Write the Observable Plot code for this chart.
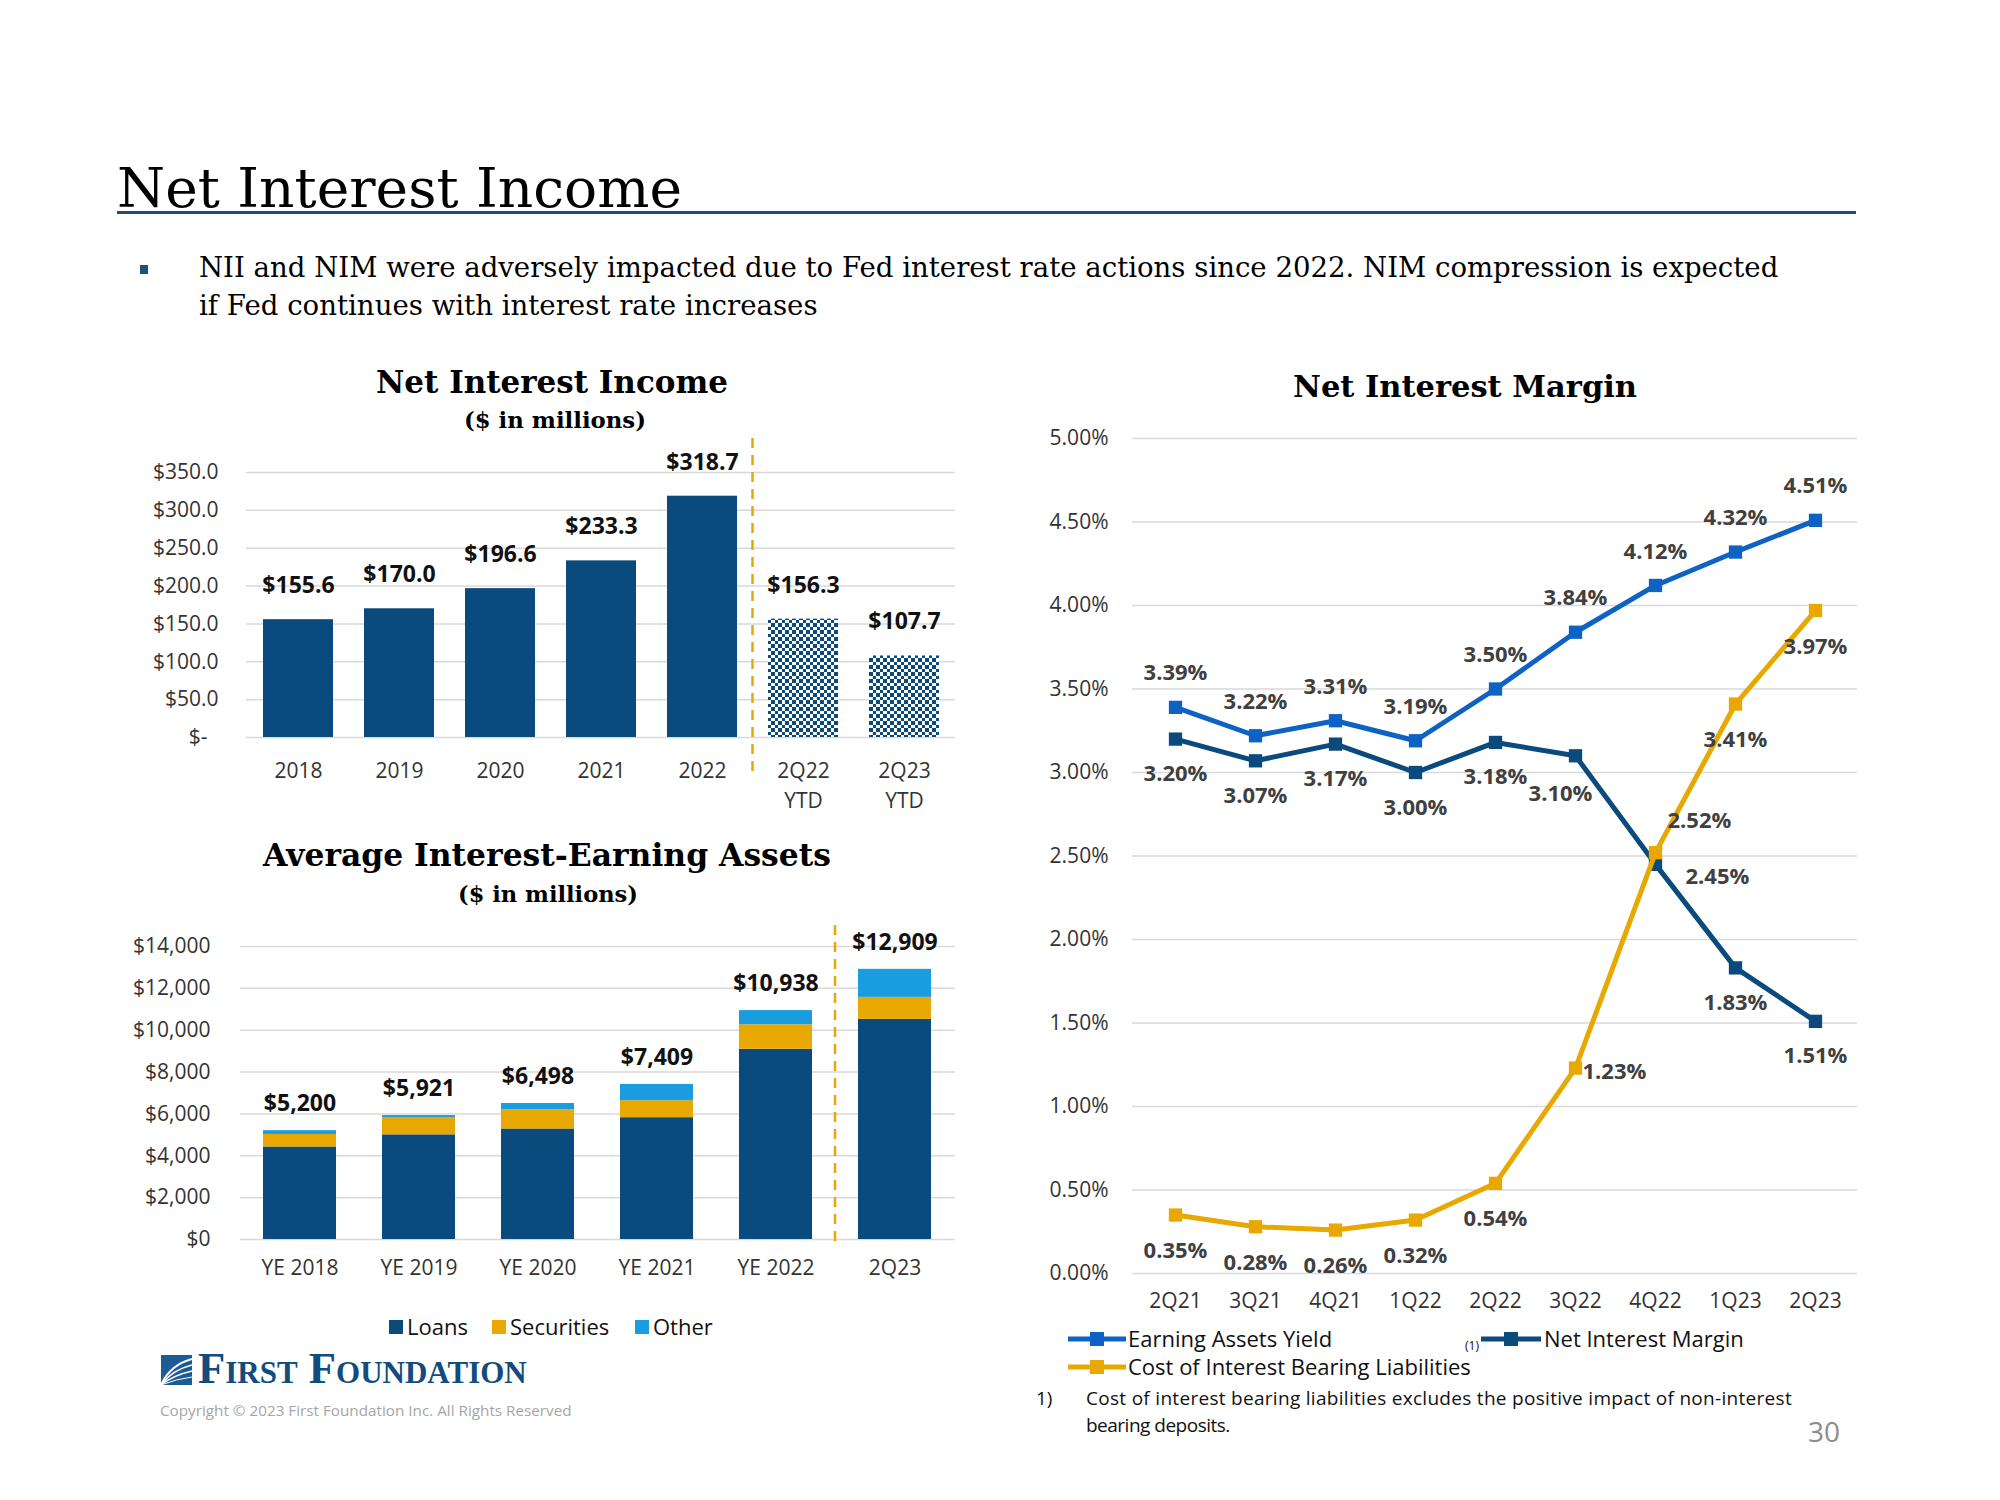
<!DOCTYPE html>
<html>
<head>
<meta charset="utf-8">
<script src="https://cdn.jsdelivr.net/npm/d3@7"></script>
<script src="https://cdn.jsdelivr.net/npm/@observablehq/plot@0.6"></script>
<style>
html, body { margin: 0; padding: 0; background: #fff; }
#page { position: relative; width: 2000px; height: 1500px; overflow: hidden; background: #fff; font-family: "Open Sans", sans-serif; }
.t { position: absolute; white-space: nowrap; line-height: 1; }
.chart { position: absolute; }
.box { position: absolute; }
</style>
</head>
<body>
<svg width="0" height="0" style="position:absolute">
  <defs>
    <pattern id="checker" patternUnits="userSpaceOnUse" width="7" height="7">
      <rect width="7" height="7" fill="#0a4a7c"></rect>
      <rect x="4" y="0" width="3" height="4" fill="#ffffff"></rect>
      <rect x="0" y="4" width="4" height="3" fill="#ffffff"></rect>
    </pattern>
  </defs>
</svg>
<div id="page"></div>
<script>
// ---------------- DATA ----------------
const niiCategories = ["2018", "2019", "2020", "2021", "2022", "2Q22 YTD", "2Q23 YTD"];
const niiValues = [155.6, 170.0, 196.6, 233.3, 318.7, 156.3, 107.7];
const niiYtd = [false, false, false, false, false, true, true];
const niiTicks = [0, 50, 100, 150, 200, 250, 300, 350];

const aieaCategories = ["YE 2018", "YE 2019", "YE 2020", "YE 2021", "YE 2022", "2Q23"];
const aieaSeries = ["Loans", "Securities", "Other"];
const aieaLoans = [4420, 5000, 5280, 5820, 9090, 10520];
const aieaSecurities = [600, 810, 920, 810, 1170, 1050];
const aieaOther = [180, 111, 298, 779, 678, 1339];
const aieaTotals = [5200, 5921, 6498, 7409, 10938, 12909];
const aieaTicks = [0, 2000, 4000, 6000, 8000, 10000, 12000, 14000];

const nimQuarters = ["2Q21", "3Q21", "4Q21", "1Q22", "2Q22", "3Q22", "4Q22", "1Q23", "2Q23"];
const earningAssetsYield = [3.39, 3.22, 3.31, 3.19, 3.50, 3.84, 4.12, 4.32, 4.51];
const netInterestMargin = [3.20, 3.07, 3.17, 3.00, 3.18, 3.10, 2.45, 1.83, 1.51];
const costOfLiabilities = [0.35, 0.28, 0.26, 0.32, 0.54, 1.23, 2.52, 3.41, 3.97];
const nimTicks = [0, 0.5, 1, 1.5, 2, 2.5, 3, 3.5, 4, 4.5, 5];

// ---------------- STYLE ----------------
const navy = "#0a4a7c";
const gold = "#e9a800";
const sky = "#1a9de0";
const blue = "#0e62c4";
const gridColor = "#d9d9d9";
const labelGray = "#404040";
const serif = '"DejaVu Serif", serif';
const sans = '"Open Sans", sans-serif';

const page = document.getElementById("page");

function addText(str, o) {
  const el = document.createElement("div");
  el.className = "t";
  el.textContent = str;
  el.style.fontFamily = o.font || sans;
  el.style.fontSize = o.size + "px";
  el.style.fontWeight = o.weight || 400;
  el.style.color = o.color || "#000";
  if (o.variant) el.style.fontVariant = o.variant;
  if (o.ls) el.style.letterSpacing = o.ls + "px";
  const probe = document.createElement("span");
  probe.style.cssText = "display:inline-block;width:0;height:0;vertical-align:baseline";
  el.appendChild(probe);
  page.appendChild(el);
  if (o.width) {
    if (o.fit === "spacing") {
      const w0 = el.getBoundingClientRect().width;
      const n = str.length;
      el.style.letterSpacing = ((o.ls || 0) + (o.width - w0) / n) + "px";
    } else {
      const w0 = el.getBoundingClientRect().width;
      el.style.fontSize = (o.size * o.width / w0) + "px";
    }
  }
  const w = el.getBoundingClientRect().width;
  const base = probe.offsetTop;
  let left = o.x;
  if (o.anchor === "middle") left = o.x - w / 2;
  else if (o.anchor === "end") left = o.x - w;
  el.style.left = left + "px";
  el.style.top = (o.baseline - base) + "px";
  return el;
}

function addBox(x, y, w, h, color) {
  const el = document.createElement("div");
  el.className = "box";
  Object.assign(el.style, {left: x + "px", top: y + "px", width: w + "px", height: h + "px", background: color});
  page.appendChild(el);
  return el;
}

function place(svg, left, top) {
  svg.classList.add("chart");
  svg.style.left = left + "px";
  svg.style.top = top + "px";
  page.appendChild(svg);
}

// dashed gold divider between two band categories
function divider(a, b, padInner, topExtra, bottomExtra) {
  return (index, scales, values, dims) => {
    const x = scales.x;
    const x0 = x(a), x1 = x(b);
    const bw = x.bandwidth ? x.bandwidth() : (x1 - x0) * (1 - padInner);
    const mid = (x0 + x1 + bw) / 2;
    const g = d3.create("svg:g");
    g.append("line")
      .attr("x1", mid).attr("x2", mid)
      .attr("y1", dims.marginTop - topExtra)
      .attr("y2", dims.height - dims.marginBottom + bottomExtra)
      .attr("stroke", gold).attr("stroke-width", 2.5)
      .attr("stroke-dasharray", "10,7");
    return g.node();
  };
}

const plotStyle = {fontFamily: sans, fontSize: "21px", color: "#333", background: "transparent", overflow: "visible"};

// ---------------- HEADER ----------------
addText("Net Interest Income", {x: 117, baseline: 207, font: serif, size: 56, width: 565});
addBox(117, 211, 1739, 2.5, "#1f4e79");
addBox(140, 265, 8, 9, "#1f4e79");
addText("NII and NIM were adversely impacted due to Fed interest rate actions since 2022. NIM compression is expected",
  {x: 199, baseline: 277, font: serif, size: 28, width: 1580});
addText("if Fed continues with interest rate increases", {x: 199, baseline: 315, font: serif, size: 28, width: 619});

// ---------------- CHART 1: NII ----------------
addText("Net Interest Income", {x: 552, baseline: 393, font: serif, weight: 700, size: 32, width: 352, anchor: "middle"});
addText("($ in millions)", {x: 555, baseline: 428, font: serif, weight: 700, size: 24, width: 182, anchor: "middle"});

const niiData = niiCategories.map((c, i) => ({cat: c, value: niiValues[i], ytd: niiYtd[i]}));
const niiPlot = Plot.plot({
  width: 845, height: 400,
  marginLeft: 126, marginRight: 10, marginTop: 52, marginBottom: 83,
  style: plotStyle,
  x: {domain: niiCategories, paddingInner: 0.31, paddingOuter: 0.155},
  y: {domain: [0, 350]},
  marks: [
    Plot.gridY({ticks: niiTicks, stroke: gridColor, strokeOpacity: 1, strokeWidth: 1.5}),
    Plot.axisY({ticks: niiTicks, tickSize: 0, tickPadding: 28, label: null,
      tickFormat: d => d === 0 ? "$-\u00a0\u00a0" : "$" + d.toFixed(1)}),
    Plot.axisX({tickSize: 0, tickPadding: 20, label: null, lineHeight: 1.4,
      tickFormat: d => d.replace(" ", "\n")}),
    Plot.barY(niiData.filter(d => !d.ytd), {x: "cat", y: "value", fill: navy}),
    Plot.barY(niiData.filter(d => d.ytd), {x: "cat", y: "value", fill: "url(#checker)"}),
    Plot.text(niiData, {x: "cat", y: "value", text: d => "$" + d.value.toFixed(1), dy: -34,
      fontWeight: "bold", fontSize: 23, fill: "#111"}),
    divider("2022", "2Q22 YTD", 0.31, 34, 38)
  ]
});
place(niiPlot, 120, 420);

// ---------------- CHART 2: AIEA ----------------
addText("Average Interest-Earning Assets", {x: 547, baseline: 866, font: serif, weight: 700, size: 32, width: 568, anchor: "middle"});
addText("($ in millions)", {x: 548, baseline: 902, font: serif, weight: 700, size: 24, width: 180, anchor: "middle"});

const aieaValues = {Loans: aieaLoans, Securities: aieaSecurities, Other: aieaOther};
const aieaData = [];
aieaCategories.forEach((c, i) => {
  aieaSeries.forEach(s => aieaData.push({cat: c, series: s, value: aieaValues[s][i]}));
});
const aieaPlot = Plot.plot({
  width: 845, height: 400,
  marginLeft: 120, marginRight: 10, marginTop: 46, marginBottom: 61,
  style: plotStyle,
  x: {domain: aieaCategories, paddingInner: 0.384, paddingOuter: 0.192},
  y: {domain: [0, 14000]},
  color: {domain: aieaSeries, range: [navy, gold, sky]},
  marks: [
    Plot.gridY({ticks: aieaTicks, stroke: gridColor, strokeOpacity: 1, strokeWidth: 1.5}),
    Plot.axisY({ticks: aieaTicks, tickSize: 0, tickPadding: 30, label: null,
      tickFormat: d => "$" + d3.format(",")(d)}),
    Plot.axisX({tickSize: 0, tickPadding: 21, label: null}),
    Plot.barY(aieaData, {x: "cat", y: "value", fill: "series"}),
    Plot.text(aieaCategories, {x: d => d, y: (d, i) => aieaTotals[i],
      text: (d, i) => "$" + d3.format(",")(aieaTotals[i]), dy: -27,
      fontWeight: "bold", fontSize: 23, fill: "#111"}),
    divider("YE 2022", "2Q23", 0.384, 21, 3)
  ]
});
place(aieaPlot, 120, 900);

// legend for chart 2
const aieaLegendColors = [navy, gold, sky];
const aieaLegendX = [389, 492, 635];
aieaSeries.forEach((s, i) => {
  addBox(aieaLegendX[i], 1320, 14, 14, aieaLegendColors[i]);
  addText(s, {x: aieaLegendX[i] + 18, baseline: 1335, size: 22, color: "#111"});
});

// ---------------- CHART 3: NIM ----------------
addText("Net Interest Margin", {x: 1465, baseline: 397, font: serif, weight: 700, size: 32, width: 344, anchor: "middle"});

const eayData = nimQuarters.map((q, i) => ({q, v: earningAssetsYield[i]}));
const nimData = nimQuarters.map((q, i) => ({q, v: netInterestMargin[i]}));
const costData = nimQuarters.map((q, i) => ({q, v: costOfLiabilities[i]}));
const pct = d => d.v.toFixed(2) + "%";
const lbl = {text: pct, fontWeight: "bold", fontSize: 22, fill: labelGray};

const nimPlot = Plot.plot({
  width: 850, height: 950,
  marginLeft: 112, marginRight: 13, marginTop: 58, marginBottom: 57,
  style: plotStyle,
  x: {type: "point", domain: nimQuarters, padding: 0.5},
  y: {domain: [0, 5]},
  marks: [
    Plot.gridY({ticks: nimTicks, stroke: gridColor, strokeOpacity: 1, strokeWidth: 1.5}),
    Plot.axisY({ticks: nimTicks, tickSize: 0, tickPadding: 24, label: null, tickFormat: d => d.toFixed(2) + "%"}),
    Plot.axisX({tickSize: 0, tickPadding: 20, label: null}),
    Plot.line(eayData, {x: "q", y: "v", stroke: blue, strokeWidth: 5}),
    Plot.dot(eayData, {x: "q", y: "v", symbol: "square", r: 7.5, fill: blue}),
    Plot.line(nimData, {x: "q", y: "v", stroke: navy, strokeWidth: 5}),
    Plot.dot(nimData, {x: "q", y: "v", symbol: "square", r: 7.5, fill: navy}),
    Plot.line(costData, {x: "q", y: "v", stroke: gold, strokeWidth: 5}),
    Plot.dot(costData, {x: "q", y: "v", symbol: "square", r: 7.5, fill: gold}),
    Plot.text(eayData, {x: "q", y: "v", dy: -34, ...lbl}),
    Plot.text(nimData.filter(d => d.q !== "3Q22" && d.q !== "4Q22"), {x: "q", y: "v", dy: 35, ...lbl}),
    Plot.text(nimData.filter(d => d.q === "3Q22"), {x: "q", y: "v", dy: 38, dx: -15, ...lbl}),
    Plot.text(nimData.filter(d => d.q === "4Q22"), {x: "q", y: "v", dy: 13, dx: 30, textAnchor: "start", ...lbl}),
    Plot.text(costData.filter(d => d.q !== "3Q22" && d.q !== "4Q22"), {x: "q", y: "v", dy: 36, ...lbl}),
    Plot.text(costData.filter(d => d.q === "3Q22"), {x: "q", y: "v", dy: 4, dx: 7, textAnchor: "start", ...lbl}),
    Plot.text(costData.filter(d => d.q === "4Q22"), {x: "q", y: "v", dy: -32, dx: 12, textAnchor: "start", ...lbl})
  ]
});
place(nimPlot, 1020, 380);

// legend for chart 3
function legendSwatch(x, cy, w, color) {
  const s = d3.create("svg").attr("width", w).attr("height", 16)
    .style("position", "absolute").style("left", x + "px").style("top", (cy - 8) + "px");
  s.append("line").attr("x1", 0).attr("x2", w).attr("y1", 8).attr("y2", 8).attr("stroke", color).attr("stroke-width", 5);
  s.append("rect").attr("x", w / 2 - 7).attr("y", 1).attr("width", 14).attr("height", 14).attr("fill", color);
  page.appendChild(s.node());
}
legendSwatch(1068, 1339, 58, blue);
addText("Earning Assets Yield", {x: 1128, baseline: 1347, size: 22, color: "#111"});
addText("(1)", {x: 1465, baseline: 1350, size: 12, color: "#111"});
legendSwatch(1481, 1339, 60, navy);
addText("Net Interest Margin", {x: 1544, baseline: 1347, size: 22, color: "#111"});
legendSwatch(1068, 1367, 58, gold);
addText("Cost of Interest Bearing Liabilities", {x: 1128, baseline: 1375, size: 22, color: "#111"});

addText("1)", {x: 1036, baseline: 1405, size: 19, color: "#111"});
addText("Cost of interest bearing liabilities excludes the positive impact of non-interest",
  {x: 1086, baseline: 1405, size: 19, color: "#111", width: 706, fit: "spacing"});
addText("bearing deposits.", {x: 1086, baseline: 1432, size: 19, color: "#111", ls: -0.5});
addText("30", {x: 1808, baseline: 1442, size: 28, color: "#8c8c8c"});

// ---------------- LOGO / FOOTER ----------------
const logo = d3.create("svg").attr("width", 31).attr("height", 30)
  .style("position", "absolute").style("left", "161px").style("top", "1355px");
logo.append("rect").attr("width", 31).attr("height", 30).attr("fill", "#1d5b97");
[["M0 30 Q 9 10 31 4", 2], ["M0 30 Q 11 15 31 10", 1.6], ["M0 30 Q 13 20 31 16", 1.3], ["M0 30 Q 15 24 31 22", 1]].forEach(([d, w]) => {
  logo.append("path").attr("d", d).attr("stroke", "#fff").attr("stroke-width", w).attr("fill", "none");
});
page.appendChild(logo.node());
addText("First Foundation", {x: 198, baseline: 1383, font: '"Liberation Serif", serif', weight: 700, size: 40,
  variant: "small-caps", color: "#124b7e", width: 331});
addText("Copyright \u00a9 2023 First Foundation Inc. All Rights Reserved",
  {x: 160, baseline: 1416, size: 15, color: "#a6a6a6", width: 412});
</script>
</body>
</html>
